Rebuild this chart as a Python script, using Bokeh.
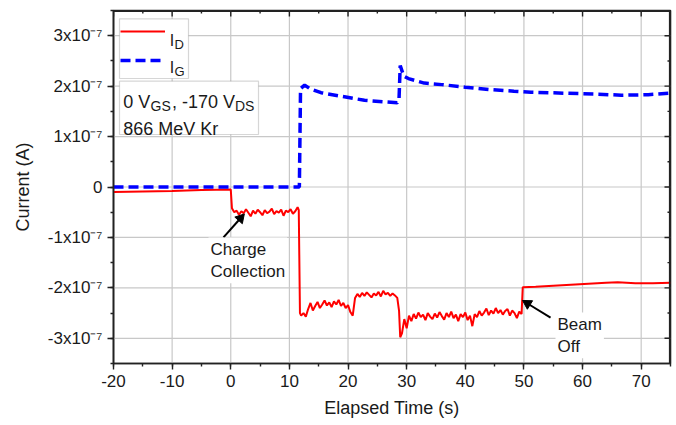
import math
from bokeh.plotting import figure
from bokeh.models import (SingleIntervalTicker, Range1d, Legend, LegendItem,
                          BoxAnnotation, Label, NumeralTickFormatter)
from bokeh.embed import file_html
from bokeh.resources import INLINE

FONT = "Liberation Sans"
INK = "#1a1a1a"
FRAME = "#222222"

# Currents are stored in units of 1e-7 A; time in seconds.
# Drain current I_D
drain_time = [-20, -15, -10, -5, 0.0,
              0.2, 0.6, 1.0, 1.4, 1.8, 2.2, 2.6, 3.0, 3.4, 3.8, 4.2, 4.6, 5.0, 5.4, 5.8,
              6.2, 6.6, 7.0, 7.4, 7.8, 8.2, 8.6, 9.0, 9.4, 9.8, 10.2, 10.6, 11.0, 11.4, 11.6,
              11.8, 12.0, 12.4, 12.8, 13.2, 13.6, 14.0, 14.4, 14.8, 15.2, 15.6, 16.0, 16.4,
              16.8, 17.2, 17.6, 18.0, 18.4, 18.8, 19.2, 19.6, 20.0, 20.4, 20.8, 21.2, 21.6,
              22.0, 22.4, 22.8, 23.2, 23.6, 24.0, 24.4, 24.8, 25.2, 25.6, 26.0, 26.4, 26.8,
              27.2, 27.6, 28.0, 28.4, 28.7, 28.9,
              29.2, 29.6, 30.0, 30.4, 30.8, 31.2, 31.6, 32.0, 32.4, 32.8, 33.2, 33.6, 34.0,
              34.4, 34.8, 35.2, 35.6, 36.0, 36.4, 36.8, 37.2, 37.6, 38.0, 38.4, 38.8, 39.2,
              39.6, 40.0, 40.4, 40.8, 41.2, 41.6, 42.0, 42.4, 42.8, 43.2, 43.6, 44.0, 44.4,
              44.8, 45.2, 45.6, 46.0, 46.4, 46.8, 47.2, 47.6, 48.0, 48.4, 48.8, 49.2, 49.6,
              49.8, 52, 55, 58, 61, 64, 66, 69, 72, 75]
drain_current = [-0.10, -0.09, -0.08, -0.06, -0.05,
                 -0.42, -0.50, -0.47, -0.55, -0.48, -0.52, -0.44, -0.51, -0.58, -0.47, -0.53,
                 -0.45, -0.50, -0.56, -0.46, -0.52, -0.49, -0.43, -0.54, -0.48, -0.51, -0.45,
                 -0.57, -0.47, -0.50, -0.44, -0.53, -0.48, -0.40, -0.46,
                 -2.50, -2.55, -2.50, -2.57, -2.42, -2.30, -2.45, -2.36, -2.28, -2.40, -2.33,
                 -2.25, -2.35, -2.29, -2.38, -2.27, -2.33, -2.24, -2.36, -2.30, -2.40, -2.34,
                 -2.48, -2.55, -2.20, -2.12, -2.18, -2.10, -2.16, -2.09, -2.14, -2.19, -2.11,
                 -2.15, -2.08, -2.17, -2.06, -2.13, -2.10, -2.16, -2.11, -2.15, -2.20, -2.45,
                 -2.98,
                 -2.90, -2.62, -2.80, -2.55, -2.66, -2.52, -2.61, -2.49, -2.58, -2.53, -2.64,
                 -2.50, -2.57, -2.62, -2.51, -2.59, -2.48, -2.56, -2.63, -2.50, -2.58, -2.47,
                 -2.60, -2.53, -2.66, -2.52, -2.58, -2.49, -2.64, -2.55, -2.76, -2.52, -2.58,
                 -2.46, -2.55, -2.49, -2.41, -2.54, -2.45, -2.51, -2.40, -2.50, -2.44, -2.53,
                 -2.46, -2.42, -2.55, -2.45, -2.50, -2.60, -2.47, -2.52,
                 -1.99, -1.98, -1.96, -1.94, -1.92, -1.90, -1.89, -1.91, -1.91, -1.90]

# Gate current I_G
gate_time = [-20, 11.7, 11.9, 12.6, 13.5, 15.4, 18.8, 22.8, 27.3, 28.4, 28.7, 28.9,
             29.5, 30.3, 33.0, 36.0, 40.0, 44.4, 48.3, 51.2, 57.0, 62.7, 66.6, 71.2, 75.0]
gate_current = [0.0, 0.0, 1.95, 2.02, 1.95, 1.87, 1.80, 1.72, 1.68, 1.67, 1.75, 2.41,
                2.20, 2.15, 2.06, 2.03, 1.98, 1.93, 1.90, 1.88, 1.86, 1.84, 1.82, 1.83, 1.86]

# tick positions
x_major = [-20, -10, 0, 10, 20, 30, 40, 50, 60, 70]
x_minor = [-15, -5, 5, 15, 25, 35, 45, 55, 65]
y_major = [-3, -2, -1, 0, 1, 2, 3]
y_minor = [-2.5, -1.5, -0.5, 0.5, 1.5, 2.5]
y_tick_labels = {3: "3x10⁻⁷", 2: "2x10⁻⁷", 1: "1x10⁻⁷", 0: "0",
                 -1: "-1x10⁻⁷", -2: "-2x10⁻⁷", -3: "-3x10⁻⁷"}

X0, X1, Y0, Y1 = -20, 75, -3.5, 3.5
FRAME_W, FRAME_H = 557, 353          # plot area in pixels
PX_X = (X1 - X0) / FRAME_W           # seconds per pixel
PX_Y = (Y1 - Y0) / FRAME_H           # 1e-7 A per pixel

p = figure(width=676, height=425, output_backend="svg", toolbar_location=None,
           x_range=Range1d(X0, X1), y_range=Range1d(Y0, Y1),
           min_border_left=113, min_border_right=6, min_border_top=10, min_border_bottom=62,
           x_axis_label="Elapsed Time (s)", y_axis_label="Current (A)")
p.outline_line_color = FRAME
p.outline_line_width = 1.6
p.xgrid.visible = False
p.ygrid.visible = False

p.xaxis.ticker = SingleIntervalTicker(interval=10, num_minor_ticks=2)
p.yaxis.ticker = SingleIntervalTicker(interval=1, num_minor_ticks=2)
p.xaxis.formatter = NumeralTickFormatter(format="0")
p.yaxis.major_label_overrides = y_tick_labels

for ax in (p.xaxis[0], p.yaxis[0]):
    ax.axis_line_color = FRAME
    ax.axis_line_width = 1.6
    ax.major_tick_line_color = FRAME
    ax.minor_tick_line_color = FRAME
    ax.major_tick_line_width = 1.4
    ax.minor_tick_line_width = 1.4
    ax.major_tick_in = 0
    ax.major_tick_out = 6
    ax.minor_tick_in = 0
    ax.minor_tick_out = 3
    ax.major_label_text_font = FONT
    ax.major_label_text_font_size = "17px"
    ax.major_label_text_color = INK
    ax.axis_label_text_font = FONT
    ax.axis_label_text_font_size = "18px"
    ax.axis_label_text_font_style = "normal"
    ax.axis_label_text_color = INK
p.xaxis.major_label_standoff = 5
p.xaxis.axis_label_standoff = 8
p.yaxis.major_label_standoff = 5
p.yaxis.axis_label_standoff = 12

# grid lines at the major ticks
gx = x_major[1:]
p.segment(gx, [Y0] * len(gx), gx, [Y1] * len(gx), line_color="#c8c8c8", line_width=1.2)
p.segment([X0] * len(y_major), y_major, [X1] * len(y_major), y_major,
          line_color="#c8c8c8", line_width=1.2)

r_d = p.line(drain_time, drain_current, line_color="#ff0000", line_width=2)
r_g = p.line(gate_time, gate_current, line_color="#0000ff", line_width=3.5,
             line_dash="10 5")

# event pointers: shaft from the caption towards the trace, head at the trace end
pointers = [(-1.24, -1.00, 1.66, -0.62), (54.54, -2.59, 50.61, -2.31)]
p.segment([a[0] for a in pointers], [a[1] for a in pointers],
          [a[2] for a in pointers], [a[3] for a in pointers],
          line_color="black", line_width=2)
angles = [math.atan2((a[3] - a[1]) / PX_Y, (a[2] - a[0]) / PX_X) - math.pi / 2
          for a in pointers]
p.scatter([a[2] for a in pointers], [a[3] for a in pointers], marker="triangle",
          size=10, angle=angles, fill_color="black", line_color="black")

# closed frame: top and right edges with inward ticks
p.segment([X0, X1], [Y1, Y0], [X1, X1], [Y1, Y1], line_color=FRAME, line_width=3.2)
for ticks, length in ((x_major, 6), (x_minor, 3)):
    p.segment(ticks, [Y1] * len(ticks), ticks, [Y1 - length * PX_Y] * len(ticks),
              line_color=FRAME, line_width=1.4)
for ticks, length in ((y_major, 6), (y_minor, 3)):
    p.segment([X1] * len(ticks), ticks, [X1 - length * PX_X] * len(ticks), ticks,
              line_color=FRAME, line_width=1.4)

# legend frame and samples
p.add_layout(BoxAnnotation(left=6, right=75, top=344.7, bottom=285,
                           left_units="screen", right_units="screen",
                           top_units="screen", bottom_units="screen",
                           fill_color="white", fill_alpha=1.0,
                           line_color="#777777", line_width=1.2))
legend = Legend(items=[LegendItem(label=" ", renderers=[r_d]),
                       LegendItem(label=" ", renderers=[r_g])],
                location=(7, 293.3), padding=0, spacing=9, margin=0,
                glyph_width=45, glyph_height=20, label_height=20, label_width=0,
                label_standoff=0, border_line_alpha=0, background_fill_alpha=0,
                label_text_font_size="1px")
p.add_layout(legend)


def txt(x, y, s, size, **kw):
    p.add_layout(Label(x=x, y=y, x_units="screen", y_units="screen", text=s,
                       text_font=FONT, text_font_size=size, text_color=INK,
                       text_baseline=kw.pop("baseline", "alphabetic"), **kw))


txt(56.3, 323.5, "I", "16px")
txt(61.0, 319.5, "D", "13px")
txt(56.3, 296.5, "I", "16px")
txt(61.0, 292.0, "G", "13px")

# condition box
p.add_layout(BoxAnnotation(left=6, right=145, top=282.3, bottom=229,
                           left_units="screen", right_units="screen",
                           top_units="screen", bottom_units="screen",
                           fill_color="white", fill_alpha=1.0,
                           line_color="#777777", line_width=1.2))
txt(9.7, 261.3, "0 V", "18px")
txt(37.0, 257.5, "GS", "14px")
txt(58.5, 261.3, ", -170 V", "18px")
txt(121.5, 257.5, "DS", "14px")
txt(9.7, 234.5, "866 MeV Kr", "18px")

txt(95, 126, "Charge\nCollection", "17px", baseline="top",
    background_fill_color="white", padding=2)
txt(442, 51, "Beam\nOff", "17px", baseline="top",
    background_fill_color="white", padding=2)

open("out.html", "w").write(file_html(p, INLINE))
